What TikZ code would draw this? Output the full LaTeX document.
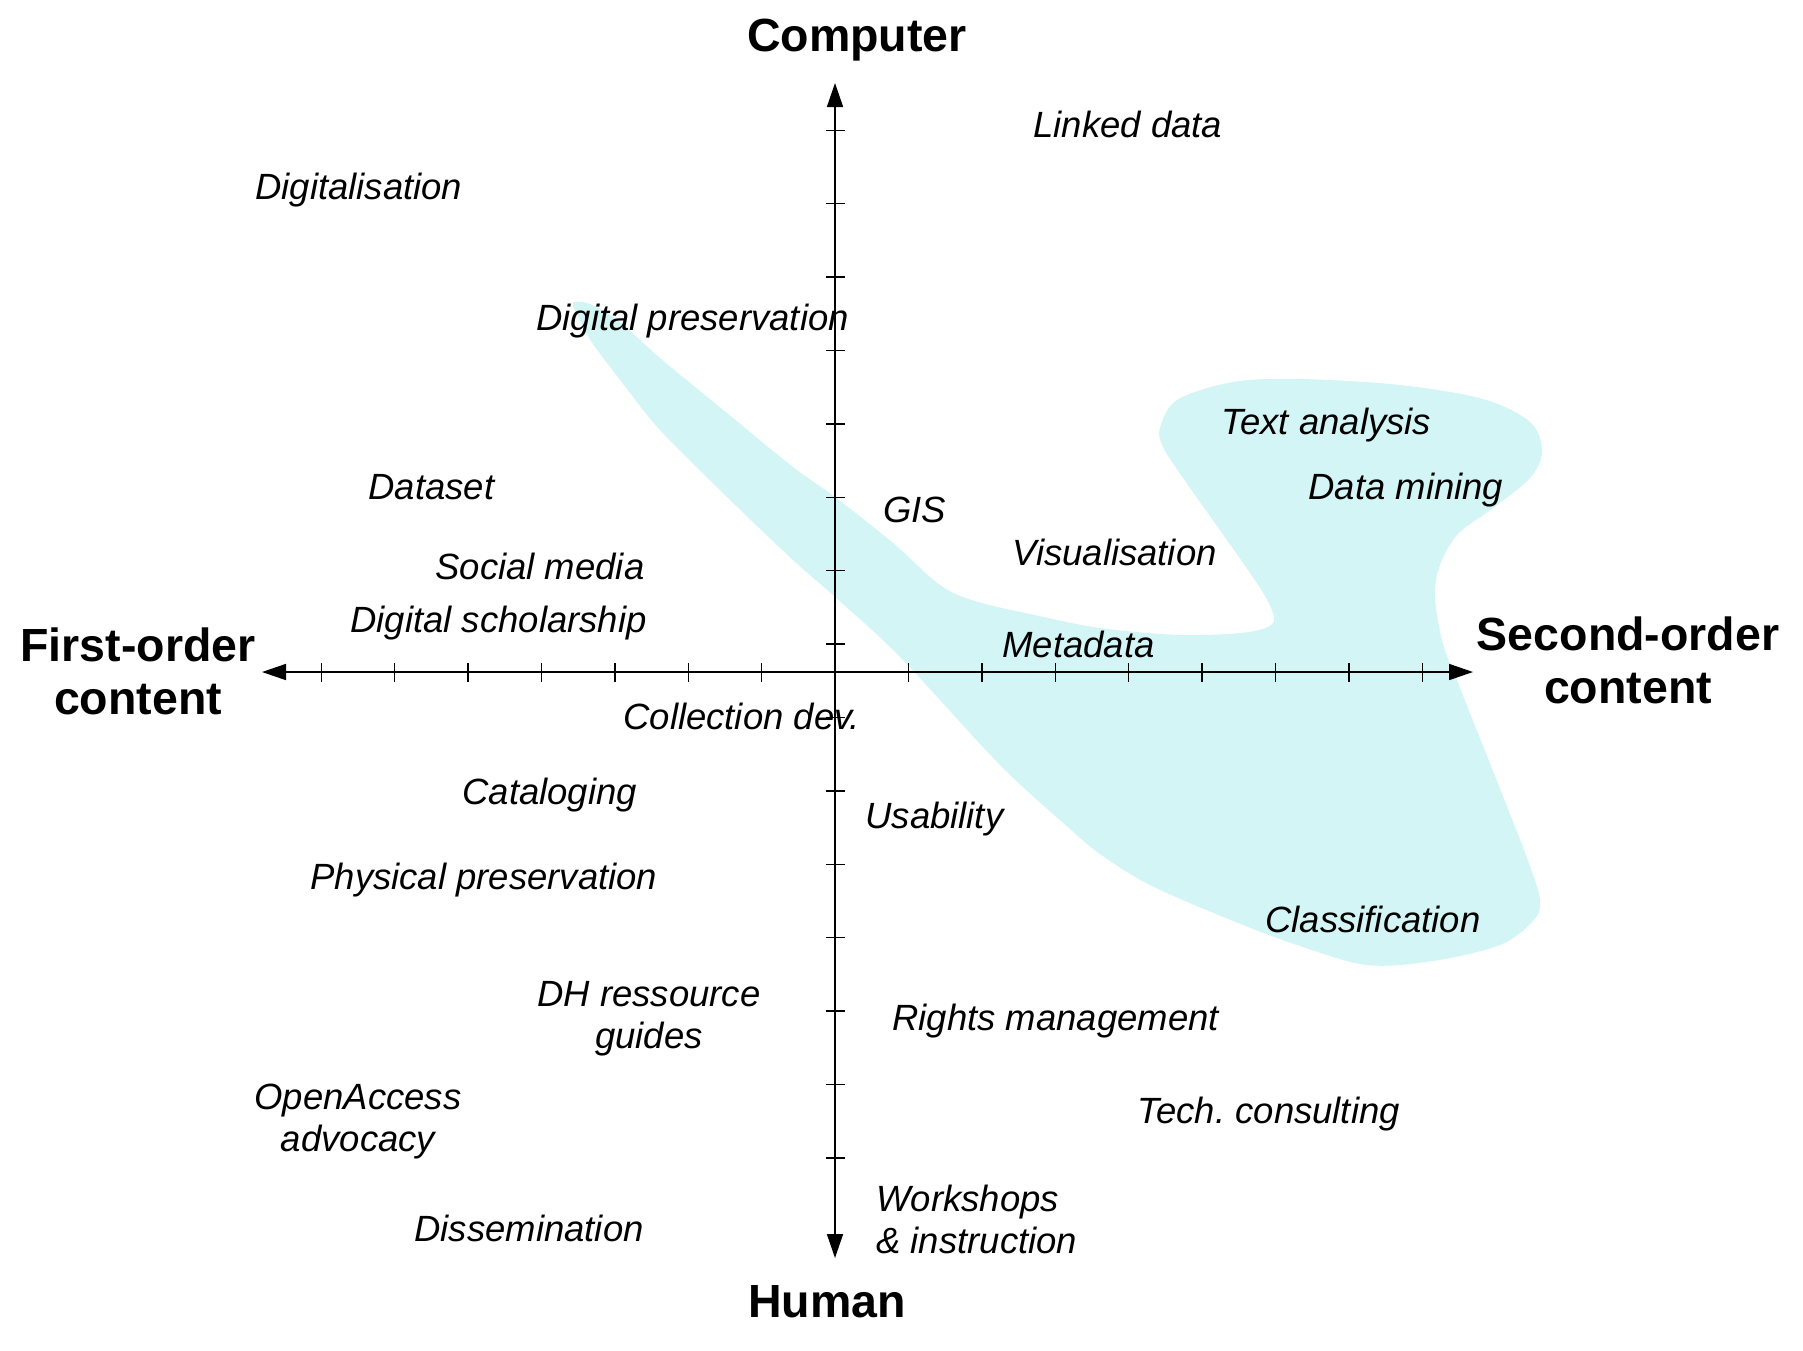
\documentclass[tikz,border=0pt]{standalone}
\usepackage{fontspec}
\setmainfont{Liberation Sans}
\usetikzlibrary{arrows.meta}
\definecolor{blobcyan}{RGB}{212,245,245}
\begin{document}
\begin{tikzpicture}[x=0.5pt,y=-0.5pt,
  lbl/.style={inner sep=0pt, font=\fontsize{18.25pt}{20.7pt}\selectfont\itshape},
  ttl/.style={inner sep=0pt, font=\fontsize{23.25pt}{26.5pt}\selectfont\bfseries, align=center},
  axisline/.style={line width=0.8pt, {Triangle[length=12pt,width=8pt]}-{Triangle[length=12pt,width=8pt]}},
  tickmark/.style={line width=0.7pt}]
\useasboundingbox (0,0) rectangle (1803,1350);
% cyan region
\fill[blobcyan] plot[smooth cycle, tension=0.55] coordinates {
(573,303) (590,304) (620,322) (660,358) (727,413) (793,467) (835,497) (893,543)
(940,585) (975,601) (1030,614) (1100,628) (1180,635) (1240,633) (1268,627) (1274,617)
(1265,596) (1250,573) (1217,526) (1183,478) (1163,447) (1160,428) (1177,400) (1233,382)
(1300,379) (1400,385) (1483,399) (1530,422) (1542,451) (1530,478) (1493,508) (1458,534)
(1440,565) (1435,597) (1443,644) (1460,688) (1493,771) (1527,858) (1540,900) (1533,921)
(1500,945) (1433,961) (1367,965) (1300,946) (1233,921) (1150,885) (1100,854) (1069,828)
(1000,765) (900,657) (835,597) (793,560) (727,497) (660,430) (627,389) (593,344) (580,320)};
% axes
\coordinate (O) at (835,672);
\coordinate (L) at (262,672);
\coordinate (R) at (1473,672);
\coordinate (T) at (835,83);
\coordinate (B) at (835,1258);
\draw[axisline] (L) -- (R);
\draw[axisline] (B) -- (T);
\foreach \k in {-7,...,8}
  \draw[tickmark] ({835+73.4*(\k)},663) -- ({835+73.4*(\k)},682);
\foreach \k in {-7,...,7}
  \draw[tickmark] (826,{644+73.4*(\k)}) -- (845,{644+73.4*(\k)});
% titles
\node[ttl, anchor=base] (computer) at (857,51) {Computer};
\node[ttl, anchor=base] (human) at (827,1317) {Human};
\node[ttl, anchor=base] (first) at (138,714) {First-order\\content};
\node[ttl, anchor=base] (second) at (1628,703) {Second-order\\content};
% labels
\node[lbl, anchor=base west] (linked) at (1033,137) {Linked data};
\node[lbl, anchor=base west] (digitalisation) at (255,199) {Digitalisation};
\node[lbl, anchor=base west] (digpres) at (536,330) {Digital preservation};
\node[lbl, anchor=base west] (textan) at (1221,434) {Text analysis};
\node[lbl, anchor=base west] (dataset) at (368,499) {Dataset};
\node[lbl, anchor=base west] (datamin) at (1308,499) {Data mining};
\node[lbl, anchor=base west] (gis) at (883,522) {GIS};
\node[lbl, anchor=base west] (vis) at (1012,565) {Visualisation};
\node[lbl, anchor=base west] (social) at (435,579) {Social media};
\node[lbl, anchor=base west] (digschol) at (350,632) {Digital scholarship};
\node[lbl, anchor=base west] (meta) at (1002,657) {Metadata};
\node[lbl, anchor=base west] (coll) at (623,729) {Collection dev.};
\node[lbl, anchor=base west] (catal) at (462,804) {Cataloging};
\node[lbl, anchor=base west] (usab) at (865,828) {Usability};
\node[lbl, anchor=base west] (physpres) at (310,889) {Physical preservation};
\node[lbl, anchor=base west] (classif) at (1265,932) {Classification};
\node[lbl, anchor=base, align=center] (dhres) at (649,1048) {DH ressource\\guides};
\node[lbl, anchor=base west] (rights) at (892,1030) {Rights management};
\node[lbl, anchor=base, align=center] (oa) at (358,1151) {OpenAccess\\advocacy};
\node[lbl, anchor=base west] (tech) at (1137,1123) {Tech.\ consulting};
\node[lbl, anchor=base west, align=left] (workshops) at (876,1253) {Workshops\\\& instruction};
\node[lbl, anchor=base west] (dissem) at (414,1241) {Dissemination};
\end{tikzpicture}
\end{document}
